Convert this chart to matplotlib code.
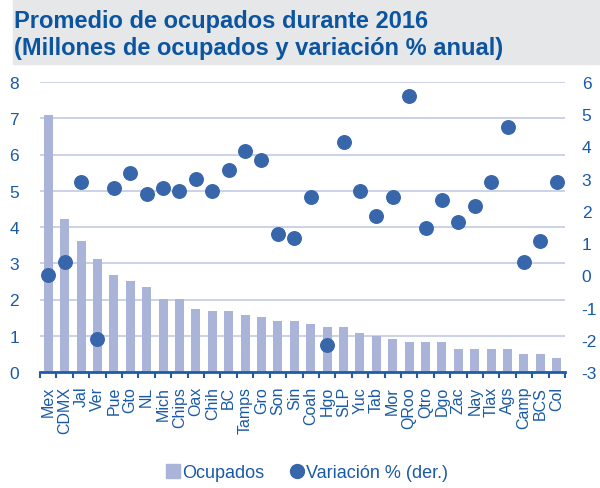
import matplotlib

matplotlib.use("Agg")
import matplotlib.pyplot as plt
from matplotlib.lines import Line2D
from matplotlib.patches import Rectangle

plt.rcParams["font.family"] = ["Liberation Sans", "DejaVu Sans"]
plt.rcParams["axes.unicode_minus"] = False

estados = [
    "Mex", "CDMX", "Jal", "Ver", "Pue", "Gto", "NL", "Mich", "Chips", "Oax", "Chih",
    "BC", "Tamps", "Gro", "Son", "Sin", "Coah", "Hgo", "SLP", "Yuc", "Tab", "Mor",
    "QRoo", "Qtro", "Dgo", "Zac", "Nay", "Tlax", "Ags", "Camp", "BCS", "Col",
]
ocupados = [
    7.08, 4.21, 3.61, 3.11, 2.68, 2.52, 2.34, 2.01, 2.01, 1.75, 1.67,
    1.67, 1.58, 1.51, 1.42, 1.42, 1.33, 1.24, 1.24, 1.08, 0.99, 0.90,
    0.83, 0.83, 0.83, 0.64, 0.64, 0.64, 0.64, 0.49, 0.49, 0.39,
]
variacion = [
    0.02, 0.41, 2.90, -1.97, 2.71, 3.18, 2.51, 2.71, 2.61, 3.00, 2.61,
    3.28, 3.86, 3.57, 1.27, 1.17, 2.43, -2.15, 4.14, 2.61, 1.84, 2.43,
    5.57, 1.47, 2.33, 1.66, 2.14, 2.90, 4.60, 0.41, 1.08, 2.90,
]

BAR = "#a9b4d8"
DOT = "#3866aa"
TXT = "#1a5aa5"
GRID = "#c3cbe2"

fig = plt.figure(figsize=(6, 4.89), dpi=100)

# gray title band
fig.patches.append(Rectangle((13 / 600, 1 - 65 / 489), 1, 65 / 489,
                             transform=fig.transFigure, color="#e6e7e9", zorder=0))
fig.text(14 / 600, 1 - 28 / 489, "Promedio de ocupados durante 2016",
         fontsize=17, fontweight="bold", color="#0b54a0", va="baseline")
fig.text(14 / 600, 1 - 55 / 489, "(Millones de ocupados y variación % anual)",
         fontsize=17, fontweight="bold", color="#0b54a0", va="baseline")

ax = fig.add_axes([40 / 600, 1 - 373 / 489, 525 / 600, 290 / 489])
x = range(len(estados))
ax.bar(x, ocupados, width=0.55, color=BAR, zorder=2)
ax.set_xlim(-0.5, len(estados) - 0.5)
ax.set_ylim(0, 8)
ax.set_yticks(range(0, 9))
ax.yaxis.grid(True, color=GRID, linewidth=1.2, zorder=0)
ax.set_axisbelow(True)
for s in ["top", "right", "left"]:
    ax.spines[s].set_visible(False)
ax.spines["bottom"].set_color("#1f5ca8")
ax.spines["bottom"].set_linewidth(2)
ax.set_xticks(list(x))
ax.set_xticklabels(estados, rotation=90, fontsize=11.5, color=TXT)
ax.set_xticks([i - 0.5 for i in range(len(estados) + 1)], minor=True)
ax.tick_params(axis="x", which="major", length=0, pad=10)
ax.tick_params(axis="x", which="minor", length=4.5, width=1.5, color="#1f5ca8")
ax.tick_params(axis="y", length=0, labelsize=12.5, labelcolor=TXT, pad=15)

ax2 = ax.twinx()
ax2.scatter(x, variacion, s=95, color=DOT, zorder=3)
ax2.set_ylim(-3, 6)
ax2.set_yticks(range(-3, 7))
for s in ax2.spines.values():
    s.set_visible(False)
ax2.tick_params(axis="y", length=0, labelsize=12.5, labelcolor=TXT, pad=12)

handles = [
    Line2D([], [], marker="s", linestyle="none", markersize=10, color=BAR),
    Line2D([], [], marker="o", linestyle="none", markersize=10, color=DOT),
]
fig.legend(handles, ["Ocupados", "Variación % (der.)"], loc="center",
           bbox_to_anchor=(0.51, 1 - 474 / 489), ncol=2, frameon=False,
           fontsize=13, labelcolor=TXT, handletextpad=0.0, columnspacing=1.3,
           handlelength=1.0)

fig.savefig("out.png", dpi=100)
